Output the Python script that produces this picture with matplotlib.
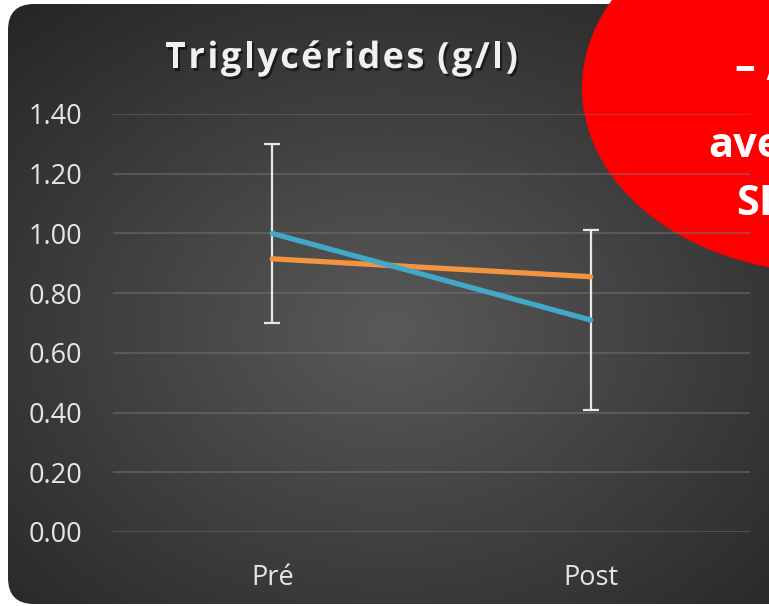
import numpy as np
import matplotlib
matplotlib.use("Agg")
import matplotlib.pyplot as plt
from matplotlib.patches import FancyBboxPatch, Ellipse
from matplotlib.font_manager import FontProperties
import matplotlib.patheffects as pe

# ---- data ----
categories = ["Pré", "Post"]
series_blue = [1.00, 0.71]
series_orange = [0.915, 0.855]
blue_err = [0.30, 0.30]
yticks = [0.0, 0.2, 0.4, 0.6, 0.8, 1.0, 1.2, 1.4]
ytick_labels = ["0.00", "0.20", "0.40", "0.60", "0.80", "1.00", "1.20", "1.40"]
title = "Triglycérides (g/l)"
overlay_lines = ["– A", "avec", "SIT"]

W, H = 769, 606
fig = plt.figure(figsize=(W / 100, H / 100), dpi=100)
fig.patch.set_facecolor("white")

# ---- background panel with radial gradient ----
bg = fig.add_axes([0, 0, 1, 1])
bg.set_xlim(0, W)
bg.set_ylim(H, 0)
bg.axis("off")
yy, xx = np.mgrid[0:H, 0:W]
cx, cy = 390, 330
r = np.sqrt(((xx - cx) / 560) ** 2 + ((yy - cy) / 430) ** 2)
val = 0.35 - 0.20 * np.clip(r, 0, 1)
img = np.dstack([val, val, val])
im = bg.imshow(img, extent=(0, W, H, 0), zorder=0, interpolation="bilinear")
panel = FancyBboxPatch((8, 4), W + 40, H - 6, boxstyle="round,pad=0,rounding_size=26",
                       facecolor="none", edgecolor="none", transform=bg.transData)
bg.add_patch(panel)
im.set_clip_path(panel)

# ---- main axes ----
ax = fig.add_axes([113 / W, (H - 532) / H, (750 - 113) / W, (532 - 114) / H])
ax.set_facecolor("none")
x = np.arange(len(categories))
ax.set_xlim(-0.5, len(categories) - 0.5)
ax.set_ylim(0, 1.4)
for s in ax.spines.values():
    s.set_visible(False)
ax.set_yticks(yticks)
ax.set_yticklabels(ytick_labels)
ax.set_xticks(x)
ax.set_xticklabels(categories)
ax.tick_params(axis="y", length=0, pad=22, labelsize=19.5, labelcolor="#e6e6e6")
ax.tick_params(axis="x", length=0, pad=23, labelsize=19.5, labelcolor="#e6e6e6")
for lab in ax.get_xticklabels() + ax.get_yticklabels():
    lab.set_fontfamily(["Open Sans", "DejaVu Sans"])
ax.grid(axis="y", color="#7a7a7a", linewidth=1.4, alpha=0.45)
ax.set_axisbelow(True)

ax.errorbar(x, series_blue, yerr=blue_err, fmt="none", ecolor="#e8e8e8",
            elinewidth=1.6, capsize=6, capthick=1.6, zorder=2)
ax.plot(x, series_orange, color="#F59340", linewidth=3.8, solid_capstyle="round", zorder=3)
ax.plot(x, series_blue, color="#41A8C8", linewidth=3.8, solid_capstyle="round", zorder=4)

# ---- title with letter spacing ----
fp = FontProperties(family=["Open Sans", "DejaVu Sans"], weight="bold", size=26)
fig.canvas.draw()
renderer = fig.canvas.get_renderer()
space_w = 8.0
widths = []
for ch in title:
    if ch == " ":
        widths.append(None)
    else:
        w, h, d = renderer.get_text_width_height_descent(ch, fp, ismath=False)
        widths.append(w)
left, right = 165.0, 518.0
ink = sum(w for w in widths if w is not None) + space_w * sum(1 for w in widths if w is None)
gap = (right - left - ink) / (len(title) - 1)
xpos = left
shadow = [pe.withSimplePatchShadow(offset=(1.5, -2), shadow_rgbFace="black", alpha=0.5)]
for ch, w in zip(title, widths):
    if w is None:
        xpos += space_w + gap
        continue
    bg.text(xpos, 68, ch, ha="left", va="baseline", fontproperties=fp, color="#f0f0f0",
            path_effects=shadow, zorder=5)
    xpos += w + gap

# ---- red overlay ----
bg.add_patch(Ellipse((830, 88), 496, 370, facecolor="#ff0000", edgecolor="none", zorder=10))
bg.text(735, 80, overlay_lines[0], ha="left", va="baseline", fontsize=30, fontweight="bold",
        color="white", family=["Open Sans", "DejaVu Sans"], zorder=11)
bg.text(708, 157, overlay_lines[1], ha="left", va="baseline", fontsize=30, fontweight="bold",
        color="white", family=["Open Sans", "DejaVu Sans"], zorder=11)
bg.text(736, 215, overlay_lines[2], ha="left", va="baseline", fontsize=30, fontweight="bold",
        color="white", family=["Open Sans", "DejaVu Sans"], zorder=11)

fig.savefig("out.png", dpi=100)
